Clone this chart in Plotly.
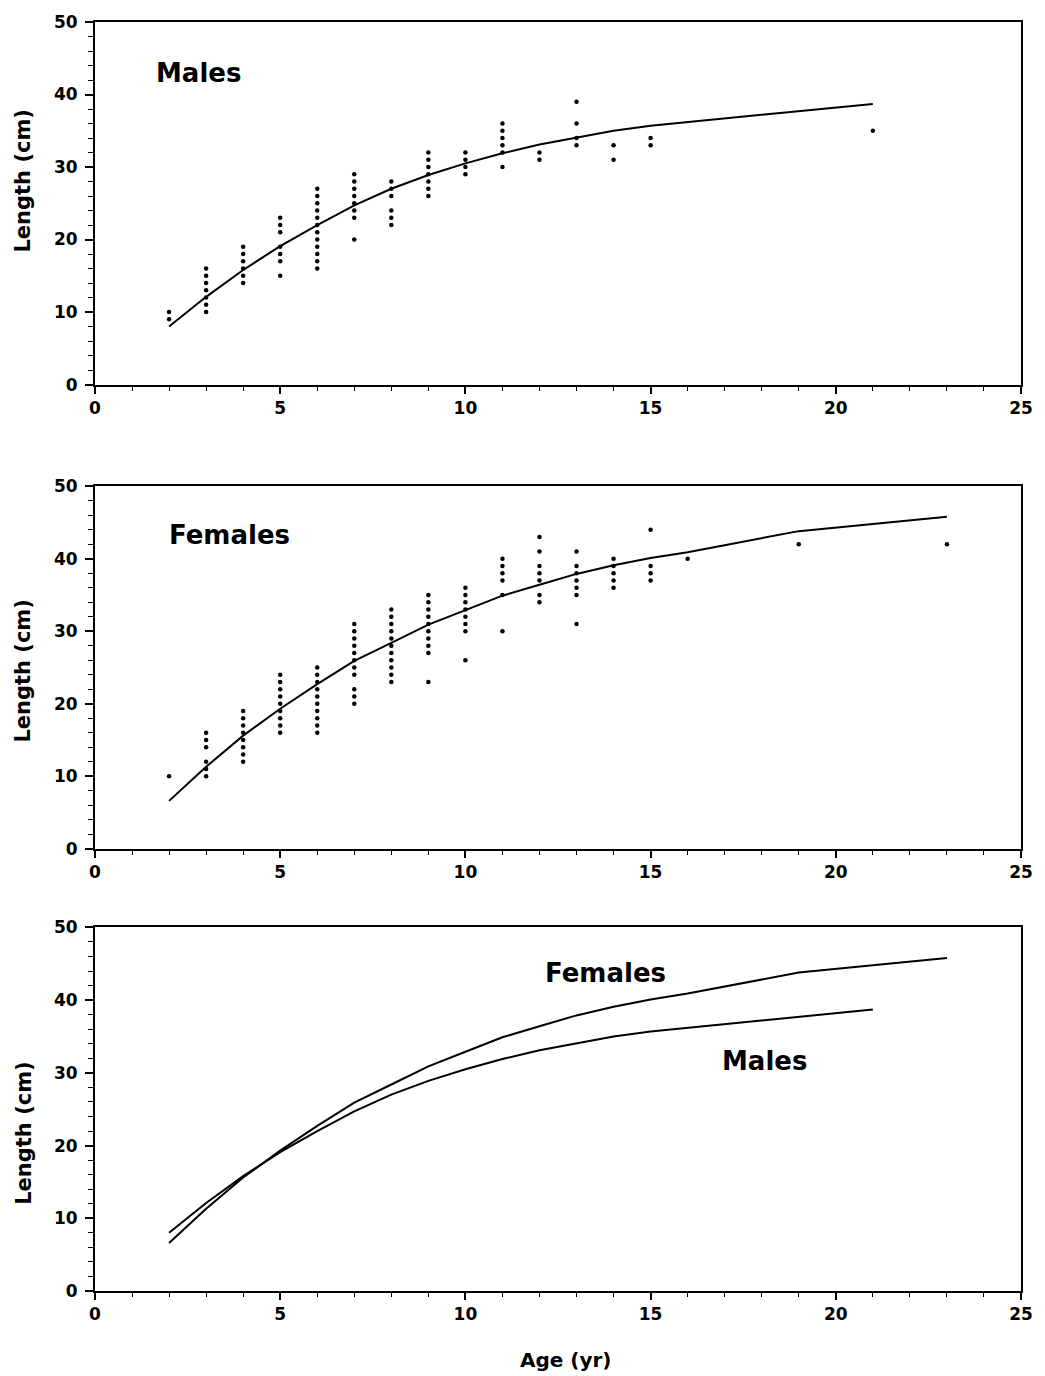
import plotly.graph_objects as go

# ---- observed data (age in years, length in cm) ----
male_age = [2, 2,
            3, 3, 3, 3, 3, 3, 3,
            4, 4, 4, 4, 4, 4,
            5, 5, 5, 5, 5, 5, 5,
            6, 6, 6, 6, 6, 6, 6, 6, 6, 6, 6, 6,
            7, 7, 7, 7, 7, 7, 7, 7,
            8, 8, 8, 8, 8, 8,
            9, 9, 9, 9, 9, 9, 9,
            10, 10, 10, 10,
            11, 11, 11, 11, 11, 11,
            12, 12,
            13, 13, 13, 13,
            14, 14,
            15, 15,
            21]
male_len = [9, 10,
            10, 11, 12, 13, 14, 15, 16,
            14, 15, 16, 17, 18, 19,
            15, 17, 18, 19, 21, 22, 23,
            16, 17, 18, 19, 20, 21, 22, 23, 24, 25, 26, 27,
            20, 23, 24, 25, 26, 27, 28, 29,
            22, 23, 24, 26, 27, 28,
            26, 27, 28, 29, 30, 31, 32,
            29, 30, 31, 32,
            30, 32, 33, 34, 35, 36,
            31, 32,
            33, 34, 36, 39,
            31, 33,
            33, 34,
            35]

female_age = [2,
              3, 3, 3, 3, 3, 3,
              4, 4, 4, 4, 4, 4, 4, 4,
              5, 5, 5, 5, 5, 5, 5, 5, 5,
              6, 6, 6, 6, 6, 6, 6, 6, 6, 6,
              7, 7, 7, 7, 7, 7, 7, 7, 7, 7, 7,
              8, 8, 8, 8, 8, 8, 8, 8, 8, 8, 8,
              9, 9, 9, 9, 9, 9, 9, 9, 9, 9,
              10, 10, 10, 10, 10, 10, 10, 10,
              11, 11, 11, 11, 11, 11,
              12, 12, 12, 12, 12, 12, 12,
              13, 13, 13, 13, 13, 13, 13,
              14, 14, 14, 14, 14,
              15, 15, 15, 15,
              16,
              19,
              23]
female_len = [10,
              10, 11, 12, 14, 15, 16,
              12, 13, 14, 15, 16, 17, 18, 19,
              16, 17, 18, 19, 20, 21, 22, 23, 24,
              16, 17, 18, 19, 20, 21, 22, 23, 24, 25,
              20, 21, 22, 24, 25, 26, 27, 28, 29, 30, 31,
              23, 24, 25, 26, 27, 28, 29, 30, 31, 32, 33,
              23, 27, 28, 29, 30, 31, 32, 33, 34, 35,
              26, 30, 31, 32, 33, 34, 35, 36,
              30, 35, 37, 38, 39, 40,
              34, 35, 37, 38, 39, 41, 43,
              31, 35, 36, 37, 38, 39, 41,
              36, 37, 38, 39, 40,
              37, 38, 39, 44,
              40,
              42,
              42]

# ---- fitted growth curves ----
male_fit_age = [2, 3, 4, 5, 6, 7, 8, 9, 10, 11, 12, 13, 14, 15, 21]
male_fit_len = [8.0, 12.1, 15.8, 19.1, 22.0, 24.7, 27.0, 28.9, 30.5, 31.9,
                33.1, 34.1, 35.0, 35.7, 38.7]
female_fit_age = [2, 3, 4, 5, 6, 7, 8, 9, 10, 11, 12, 13, 14, 15, 16, 19, 23]
female_fit_len = [6.6, 11.3, 15.6, 19.3, 22.7, 25.9, 28.4, 30.9, 32.9, 34.9,
                  36.4, 37.9, 39.1, 40.1, 40.9, 43.8, 45.8]

x_ticks = [0, 5, 10, 15, 20, 25]
y_ticks = [0, 10, 20, 30, 40, 50]

FONT = "DejaVu Sans"
W, H = 1045, 1376
ML, MR, MT, MB = 95, 22, 17, 85
PH = H - MT - MB


def py(ypx):
    return (H - MB - ypx) / PH


fig = go.Figure()

dot = dict(color="black", size=4.5)
line = dict(color="black", width=2)

# panel 1 (males)
fig.add_trace(go.Scatter(x=male_age, y=male_len, mode="markers", marker=dot,
                         xaxis="x", yaxis="y", showlegend=False))
fig.add_trace(go.Scatter(x=male_fit_age, y=male_fit_len, mode="lines", line=line,
                         xaxis="x", yaxis="y", showlegend=False))
# panel 2 (females)
fig.add_trace(go.Scatter(x=female_age, y=female_len, mode="markers", marker=dot,
                         xaxis="x2", yaxis="y2", showlegend=False))
fig.add_trace(go.Scatter(x=female_fit_age, y=female_fit_len, mode="lines", line=line,
                         xaxis="x2", yaxis="y2", showlegend=False))
# panel 3 (both curves)
fig.add_trace(go.Scatter(x=female_fit_age, y=female_fit_len, mode="lines", line=line,
                         xaxis="x3", yaxis="y3", showlegend=False))
fig.add_trace(go.Scatter(x=male_fit_age, y=male_fit_len, mode="lines", line=line,
                         xaxis="x3", yaxis="y3", showlegend=False))

tickfont = dict(family=FONT, size=17, color="black", weight="bold")

domains = [(py(381), py(17)), (py(847), py(483)), (py(1291), py(926))]


def xax(anchor, dom):
    return dict(range=[0, 25], tickvals=x_ticks, ticktext=[str(v) for v in x_ticks],
                showgrid=False, zeroline=False, showline=True, linecolor="black",
                linewidth=2, mirror=True, ticks="outside", ticklen=7, tickwidth=1.5,
                tickcolor="black", tickfont=tickfont, anchor=anchor,
                minor=dict(dtick=1, ticks="outside", ticklen=4, tickwidth=1.2,
                           tickcolor="black", showgrid=False),
                fixedrange=True)


def yax(anchor, dom):
    return dict(range=[0, 50], tickvals=y_ticks, ticktext=[str(v) for v in y_ticks],
                showgrid=False, zeroline=False, showline=True, linecolor="black",
                linewidth=2, mirror=True, ticks="outside", ticklen=8, tickwidth=1.5,
                tickcolor="black", tickfont=tickfont, anchor=anchor, domain=list(dom),
                ticklabelstandoff=4,
                minor=dict(dtick=2, ticks="outside", ticklen=5, tickwidth=1.2,
                           tickcolor="black", showgrid=False),
                fixedrange=True)


fig.update_layout(
    width=W, height=H,
    margin=dict(l=ML, r=MR, t=MT, b=MB, pad=0),
    paper_bgcolor="white", plot_bgcolor="white",
    font=dict(family=FONT, color="black"),
    xaxis=xax("y", domains[0]), yaxis=yax("x", domains[0]),
    xaxis2=xax("y2", domains[1]), yaxis2=yax("x2", domains[1]),
    xaxis3=xax("y3", domains[2]), yaxis3=yax("x3", domains[2]),
)

lab = dict(family=FONT, size=26, color="black", weight="bold")
ann = [
    dict(x=2.8, y=42.9, xref="x", yref="y", text="Males", showarrow=False, font=lab),
    dict(x=3.64, y=43.3, xref="x2", yref="y2", text="Females", showarrow=False, font=lab),
    dict(x=13.77, y=43.8, xref="x3", yref="y3", text="Females", showarrow=False, font=lab),
    dict(x=18.08, y=31.7, xref="x3", yref="y3", text="Males", showarrow=False, font=lab),
]
ytitle_font = dict(family=FONT, size=21, color="black", weight="bold")
for ycen in (177, 669, 1133):
    ann.append(dict(x=(23 - ML) / (W - ML - MR), y=py(ycen), xref="paper", yref="paper",
                    text="Length (cm)", textangle=-90, showarrow=False,
                    xanchor="center", yanchor="middle", font=ytitle_font))
ann.append(dict(x=(567 - ML) / (W - ML - MR), y=py(1360), xref="paper", yref="paper",
                text="Age (yr)", showarrow=False, xanchor="center", yanchor="middle",
                font=dict(family=FONT, size=20, color="black", weight="bold")))
fig.update_layout(annotations=ann)

fig.write_html("out.html")
